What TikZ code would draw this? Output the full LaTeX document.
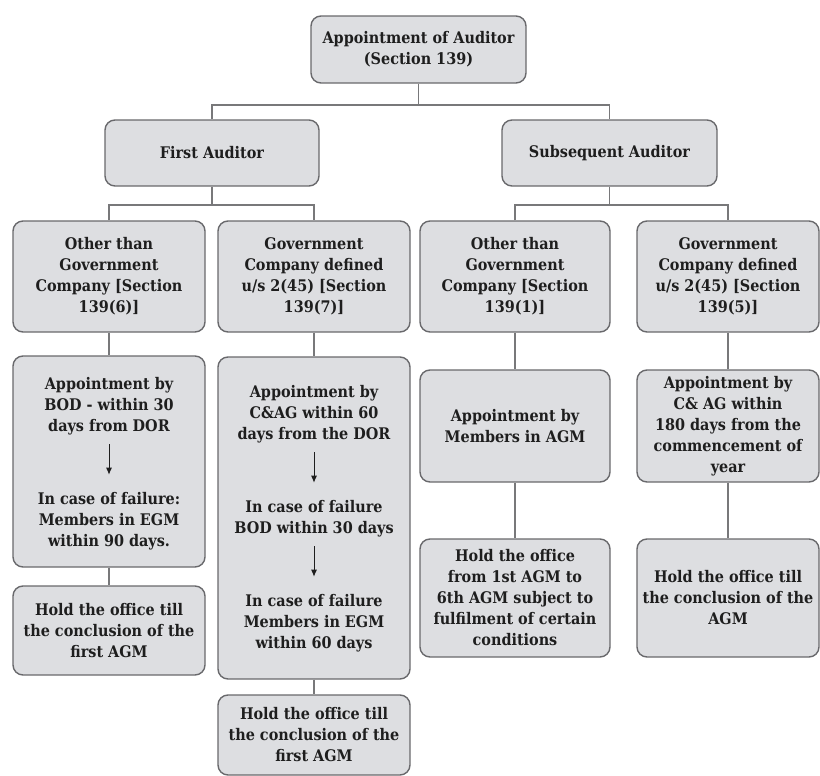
\documentclass[tikz,border=0pt]{standalone}
\usepackage{fontspec}
\setmainfont{DejaVu Serif}[FakeStretch=0.9]
\usetikzlibrary{arrows.meta}
\definecolor{boxfill}{RGB}{221,222,225}
\definecolor{boxline}{RGB}{105,105,108}
\definecolor{linkgray}{RGB}{120,120,122}
\definecolor{inktext}{RGB}{30,30,30}
\tikzset{
  auditbox/.style 2 args={draw=boxline, fill=boxfill, rounded corners=5pt,
    line width=0.7pt, align=center, inner sep=0pt,
    minimum width=#1*0.5pt, minimum height=#2*0.5pt,
    font=\bfseries\fontsize{8}{10.5}\selectfont, text=inktext},
  plaintext/.style={align=center, inner sep=1pt,
    font=\bfseries\fontsize{8}{10.5}\selectfont, text=inktext},
  link/.style={draw=linkgray, line width=0.6pt},
  flow/.style={draw=inktext, line width=0.5pt, -{Latex[length=3.5pt,width=3pt]},
    shorten <=3.5pt, shorten >=7.5pt},
}
\begin{document}
\begin{tikzpicture}[x=0.5pt,y=-0.5pt]
\pgfmathsetmacro{\xa}{109}
\pgfmathsetmacro{\xb}{314}
\pgfmathsetmacro{\xc}{515}
\pgfmathsetmacro{\xd}{728}
\useasboundingbox (0,0) rectangle (820,776);
  % top two levels
  \node[auditbox={215}{67}] (root) at (418.5,49.5) {Appointment of Auditor\\(Section 139)};
  \node[auditbox={214}{66}] (first) at (212,153) {First Auditor};
  \node[auditbox={215}{66}] (subs) at (609.5,153) {Subsequent Auditor};
  \coordinate (bustop) at (418.5,105);
  \draw[link] (root.south) -- (bustop);
  \draw[link] (first.north) |- (bustop) -| (subs.north);
  % kind of company
  \node[auditbox={192}{111}] (othfirst) at (\xa,276.5) {Other than\\Government\\Company [Section\\139(6)]};
  \node[auditbox={192}{111}] (govfirst) at (\xb,276.5) {Government\\Company defined\\u/s 2(45) [Section\\139(7)]};
  \node[auditbox={190}{111}] (othsubs) at (\xc,276.5) {Other than\\Government\\Company [Section\\139(1)]};
  \node[auditbox={182}{111}] (govsubs) at (\xd,276.5) {Government\\Company defined\\u/s 2(45) [Section\\139(5)]};
  \coordinate (busfirst) at (212,205);
  \coordinate (bussubs) at (609.5,205);
  \draw[link] (first.south) -- (busfirst);
  \draw[link] (othfirst.north) |- (busfirst) -| (govfirst.north);
  \draw[link] (subs.south) -- (bussubs);
  \draw[link] (othsubs.north) |- (bussubs) -| (govsubs.north);
  % who appoints
  \node[auditbox={192}{211}] (apothfirst) at (\xa,461.5) {};
  \node[plaintext] (bodfirst) at (\xa,406) {Appointment by\\BOD - within 30\\days from DOR};
  \node[plaintext] (egmfirst) at (\xa,521) {In case of failure:\\Members in EGM\\within 90 days.};
  \draw[flow] (bodfirst) -- (egmfirst);
  \node[auditbox={192}{322}] (apgovfirst) at (\xb,518) {};
  \node[plaintext] (cagfirst) at (\xb,414) {Appointment by\\C\&AG within 60\\days from the DOR};
  \node[plaintext] (bodgov) at (\xb,518.5) {In case of failure\\BOD within 30 days};
  \node[plaintext] (egmgov) at (\xb,623) {In case of failure\\Members in EGM\\within 60 days};
  \draw[flow] (cagfirst) -- (bodgov);
  \draw[flow] (bodgov) -- (egmgov);
  \node[auditbox={190}{112}] (apothsubs) at (\xc,426) {Appointment by\\Members in AGM};
  \node[auditbox={182}{112}] (apgovsubs) at (\xd,426) {Appointment by\\C\& AG within\\180 days from the\\commencement of\\year};
  \draw[link] (othfirst.south) -- (apothfirst.north);
  \draw[link] (govfirst.south) -- (apgovfirst.north);
  \draw[link] (othsubs.south) -- (apothsubs.north);
  \draw[link] (govsubs.south) -- (apgovsubs.north);
  % tenure
  \node[auditbox={192}{89}] (tenothfirst) at (\xa,630.5) {Hold the office till\\the conclusion of the\\first AGM};
  \node[auditbox={192}{80}] (tengovfirst) at (\xb,735) {Hold the office till\\the conclusion of the\\first AGM};
  \node[auditbox={190}{118}] (tenothsubs) at (\xc,598) {Hold the office\\from 1st AGM to\\6th AGM subject to\\fulfilment of certain\\conditions};
  \node[auditbox={182}{118}] (tengovsubs) at (\xd,598) {Hold the office till\\the conclusion of the\\AGM};
  \draw[link] (apothfirst.south) -- (tenothfirst.north);
  \draw[link] (apgovfirst.south) -- (tengovfirst.north);
  \draw[link] (apothsubs.south) -- (tenothsubs.north);
  \draw[link] (apgovsubs.south) -- (tengovsubs.north);
\end{tikzpicture}
\end{document}
